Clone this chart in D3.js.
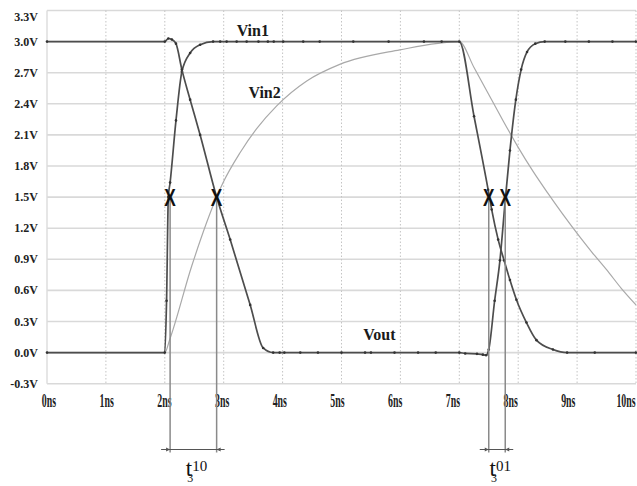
<!DOCTYPE html>
<html><head><meta charset="utf-8">
<script src="https://cdn.jsdelivr.net/npm/d3@7"></script>
<style>body{margin:0;background:#fff}svg{display:block}
.serif{font-family:"Liberation Serif","Times New Roman",Times,"DejaVu Serif",serif}
.sans{font-family:"Liberation Sans",Arial,"DejaVu Sans",sans-serif}
</style>
</head><body><svg id="c" width="637" height="486"></svg>
<script>
// ---- data ----
const timeTicks = [0,1,2,3,4,5,6,7,8,9,10];
const timeLabels = ["0ns","1ns","2ns","3ns","4ns","5ns","6ns","7ns","8ns","9ns","10ns"];
const voltTicks = [-0.3,0,0.3,0.6,0.9,1.2,1.5,1.8,2.1,2.4,2.7,3.0,3.3];
const voltLabels = ["-0.3V","0.0V","0.3V","0.6V","0.9V","1.2V","1.5V","1.8V","2.1V","2.4V","2.7V","3.0V","3.3V"];

const vin1Time = [0,2.0,2.03,2.06,2.09,2.19,2.29,2.43,2.6,2.82,2.94,3.05,3.22,3.39,3.59,3.75,3.85,4.01,4.35,4.63,5.2,5.8,6.4,6.7,7.0,7.25,7.49,7.55,7.66,7.76,7.86,7.97,8.14,8.31,8.59,8.83,9.3,10];
const vin1Volt = [0,0,0.5,1.5,1.64,2.24,2.71,2.89,2.97,3.0,3.0,3.0,3.0,3.0,3.0,3.0,3.0,3.0,3.0,3.0,3.0,3.0,3.0,3.0,3.0,2.28,1.57,1.38,1.09,0.89,0.70,0.51,0.29,0.12,0.03,0.0,0.0,0.0];

const vin2Time = [0,2.0,2.08,2.46,2.88,2.99,3.28,3.56,3.90,4.41,4.97,5.99,7.0,7.25,7.5,7.75,8.0,8.25,8.5,8.75,9.0,9.25,9.5,9.75,10];
const vin2Volt = [0,0,0.12,0.84,1.50,1.64,1.93,2.16,2.38,2.62,2.78,2.92,3.0,2.75,2.49,2.23,1.98,1.75,1.54,1.34,1.15,0.97,0.80,0.62,0.46];

const voutTime = [0,2.0,2.06,2.12,2.19,2.29,2.43,2.6,2.88,3.11,3.45,3.67,3.84,3.95,4.03,4.3,4.6,5.0,5.4,5.5,5.9,6.3,6.6,7.0,7.1,7.3,7.4,7.455,7.5,7.6,7.69,7.78,7.86,7.96,8.05,8.15,8.29,8.45,8.8,9.2,9.6,10];
const voutVolt = [3.0,3.0,3.03,3.02,2.98,2.73,2.44,2.10,1.50,1.09,0.46,0.045,0.0,0,0,0,0,0,0,0,0,0,0,0,-0.008,-0.012,-0.02,-0.025,0.03,0.5,0.89,1.47,1.95,2.44,2.73,2.90,2.98,3.0,3.0,3.0,3.0,3.0];

const seriesNames = ["Vin1","Vin2","Vout"];
const seriesLabelTime = [3.22,3.42,5.37];
const seriesLabelVolt = [3.055,2.457,0.12];

const crossTimes = [2.09,2.88,7.50,7.78];
const crossVolt = 1.5;
const delaySub = ["3","3"];
const delaySup = ["10","01"];

// ---- drawing ----
const svg = d3.select("#c");
const x = d3.scaleLinear().domain([0,10]).range([47,636]);
const y = d3.scaleLinear().domain([-0.3,3.3]).range([383.7,10.5]);
const xLab = d3.scaleLinear().domain([0,10]).range([49,626]);

// grid
svg.append("g").selectAll("line").data(voltTicks).join("line")
  .attr("x1",x(0)).attr("x2",x(10)).attr("y1",d=>y(d)).attr("y2",d=>y(d))
  .attr("stroke","#d9d9d9").attr("stroke-width",1.6);
svg.append("g").selectAll("line").data(timeTicks).join("line")
  .attr("x1",d=>x(d)).attr("x2",d=>x(d)).attr("y1",y(3.3)).attr("y2",y(-0.3))
  .attr("stroke",d=>d===0?"#dcdcdc":"#c4c4c4")
  .attr("stroke-width",d=>d===0?1.4:1)
  .attr("stroke-dasharray",d=>d===0?null:"1.5,2");

// y labels
svg.append("g").selectAll("text").data(voltTicks).join("text")
  .attr("class","serif")
  .attr("x",38).attr("y",d=>Math.max(y(d),17)+4)
  .attr("text-anchor","end")
  .attr("font-size",12).attr("font-weight","bold").attr("fill","#222")
  .text((d,i)=>voltLabels[i]);

// x labels
svg.append("g").selectAll("text").data(timeTicks).join("text")
  .attr("class","serif")
  .attr("transform",d=>`translate(${xLab(d)},407) scale(0.52,1)`)
  .attr("text-anchor","middle")
  .attr("font-size",19).attr("font-weight","bold").attr("fill","#222")
  .text((d,i)=>timeLabels[i]);

const line = d3.line().x(d=>x(d[0])).y(d=>y(d[1])).curve(d3.curveMonotoneX);
const vin1 = d3.zip(vin1Time,vin1Volt);
const vin2 = d3.zip(vin2Time,vin2Volt);
const vout = d3.zip(voutTime,voutVolt);

svg.append("path").datum(vin2).attr("d",line).attr("fill","none")
  .attr("stroke","#a9a9a9").attr("stroke-width",1.2);
[vin1,vout].forEach(s=>{
  svg.append("path").datum(s).attr("d",line).attr("fill","none")
    .attr("stroke","#4d4d4d").attr("stroke-width",1.7);
  svg.append("g").selectAll("circle").data(s).join("circle")
    .attr("cx",d=>x(d[0])).attr("cy",d=>y(d[1])).attr("r",1.3).attr("fill","#333");
});

// series labels
svg.append("g").selectAll("text").data(seriesNames).join("text")
  .attr("class","serif")
  .attr("x",(d,i)=>x(seriesLabelTime[i])).attr("y",(d,i)=>y(seriesLabelVolt[i]))
  .attr("font-size",16).attr("font-weight","bold").attr("fill","#1a1a1a")
  .text(d=>d);

// marker lines
const dimY = 449.5;
svg.append("g").selectAll("line").data(crossTimes).join("line")
  .attr("x1",d=>x(d)).attr("x2",d=>x(d)).attr("y1",y(crossVolt)).attr("y2",dimY+3)
  .attr("stroke","#8a8a8a").attr("stroke-width",1.5);

// X markers
svg.append("g").selectAll("text").data(crossTimes).join("text")
  .attr("class","sans")
  .attr("transform",d=>`translate(${x(d)},${y(crossVolt)+8.5}) scale(0.72,1)`)
  .attr("text-anchor","middle")
  .attr("font-size",24).attr("font-weight","bold").attr("fill","#111")
  .text("X");

// dimension lines and labels
[[0,1],[2,3]].forEach((p,k)=>{
  const a = x(crossTimes[p[0]]), b = x(crossTimes[p[1]]);
  const g = svg.append("g");
  g.append("line").attr("x1",a-9).attr("x2",b+8).attr("y1",dimY).attr("y2",dimY)
    .attr("stroke","#555").attr("stroke-width",1);
  g.append("path").attr("d",`M${a},${dimY}l-4,-2v4z M${b},${dimY}l4,-2v4z`).attr("fill","#555");
  const mid = (a+b)/2;
  const t = g.append("text").attr("class","serif").attr("x",mid-7.5).attr("y",476)
    .attr("font-size",23).attr("fill","#111");
  t.append("tspan").text("t");
  t.append("tspan").attr("font-size",12).attr("dx",-5).attr("dy",6).text(delaySub[k]);
  t.append("tspan").attr("font-size",15).attr("dx",-1).attr("dy",-11).text(delaySup[k]);
});
</script></body></html>
